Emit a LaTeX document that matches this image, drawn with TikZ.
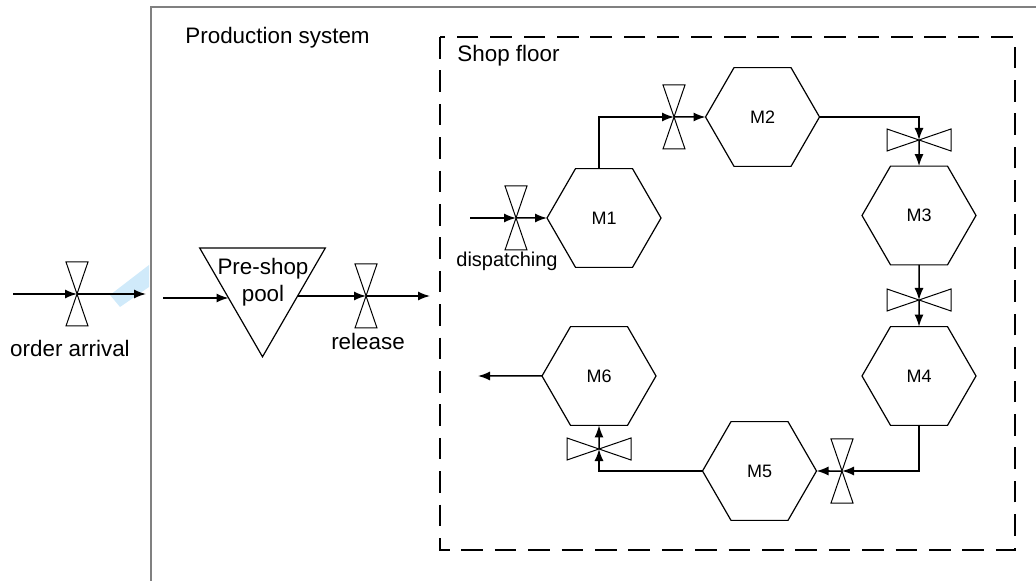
\documentclass[tikz,border=0pt]{standalone}
\usepackage{fontspec}
\setmainfont{Liberation Sans}
\usetikzlibrary{shapes.geometric,arrows.meta}

\definecolor{haze}{RGB}{208,234,250}

\tikzset{
  machine/.style={draw, regular polygon, regular polygon sides=6, minimum size=57pt,
    inner sep=0pt, outer sep=0pt, line width=0.6pt, font=\fontsize{9}{10}\selectfont},
  pool/.style={draw, regular polygon, regular polygon sides=3, shape border rotate=180,
    minimum size=72.5pt, inner sep=0pt, outer sep=0pt, line width=0.6pt},
  flow/.style={->, >={Latex[length=6pt,width=4.5pt]}, line width=0.75pt},
  tag/.style={anchor=base, inner sep=0pt, font=\fontsize{11.2}{13}\selectfont},
  floorframe/.style={line width=1.4pt, dash pattern=on 10.8pt off 5.9pt}
}

\newcommand\valvev[1]{\draw[line width=0.5pt] (#1) ++(-11,-32) -- ++(22,0) -- ++(-22,64) -- ++(22,0) -- cycle;}
\newcommand\valveh[1]{\draw[line width=0.5pt] (#1) ++(-32,-11) -- ++(0,22) -- ++(64,-22) -- ++(0,22) -- cycle;}

\begin{document}
\begin{tikzpicture}[x=0.5pt, y=-0.5pt]
\useasboundingbox (0,0) rectangle (1036,581);

\fill[haze] (110,295) -- (120,307) -- (149,287) -- (149,265) -- cycle;

% production system
\draw[gray, line width=1pt] (1036,7) -- (151,7) -- (151,581);
\node[tag, anchor=base west] (systitle) at (185,44) {Production system};

% shop floor
\draw[floorframe] (440,37) rectangle (1015,550);
\node[tag, anchor=base west] (floortitle) at (457,62) {Shop floor};

% order arrival
\pgfmathsetmacro\y{294}
\coordinate (orderin) at (13,\y);
\coordinate (arrival) at (77,\y);
\coordinate (sysin) at (146,\y);
\draw[flow] (orderin) -- (arrival);
\draw[flow] (arrival) -- (sysin);
\valvev{arrival}
\node[tag] (arrivaltext) at (70,357) {order arrival};

% pre-shop pool and release
\node[pool] (pool) at (262.5,284.3) {};
\node[tag, anchor=center, align=center, font=\fontsize{11.2}{13.5}\selectfont] (pooltext) at (263,282) {Pre-shop\\pool};
\coordinate (poolin) at (163,298);
\draw[flow] (poolin) -- (poolin -| pool.202);

\pgfmathsetmacro\y{296}
\coordinate (release) at (366,\y);
\coordinate (shopin) at (430,\y);
\draw[flow] (release -| pool.-18) -- (release);
\draw[flow] (release) -- (shopin);
\valvev{release}
\node[tag] (releasetext) at (368,350) {release};

% machines
\node[machine] (m1) at (604,218) {M1};
\node[machine] (m2) at (762.5,117) {M2};
\node[machine] (m3) at (919,215.5) {M3};
\node[machine] (m4) at (919,376) {M4};
\node[machine] (m5) at (759.5,471) {M5};
\node[machine] (m6) at (599,376) {M6};

% dispatching
\coordinate (dispin) at (470,218);
\coordinate (dispatch) at (516,218);
\draw[flow] (dispin) -- (dispatch);
\draw[flow] (dispatch) -- (m1.west);
\valvev{dispatch}
\node[tag, font=\fontsize{10}{12}\selectfont] (dispatchtext) at (507,267) {dispatching};

% routing between machines
\coordinate (v2) at (674,117);
\coordinate (v3) at (919,140);
\coordinate (v4) at (919,300);
\coordinate (v5) at (842,471);
\coordinate (v6) at (599,449);
\coordinate (shopout) at (478,376);

\draw[flow] ([xshift=-2.5pt]m1.north) |- (v2);
\draw[flow] (v2) -- (m2.west);
\draw[flow] (m2.east) -| (v3);
\draw[flow] (v3) -- (m3.north);
\draw[flow] (m3.south) -- (v4);
\draw[flow] (v4) -- (m4.north);
\draw[flow] (m4.south) |- (v5);
\draw[flow] (v5) -- (m5.east);
\draw[flow] (m5.west) -| (v6);
\draw[flow] (v6) -- (m6.south);
\draw[flow] (m6.west) -- (shopout);

\valvev{v2}
\valveh{v3}
\valveh{v4}
\valvev{v5}
\valveh{v6}

\end{tikzpicture}
\end{document}
